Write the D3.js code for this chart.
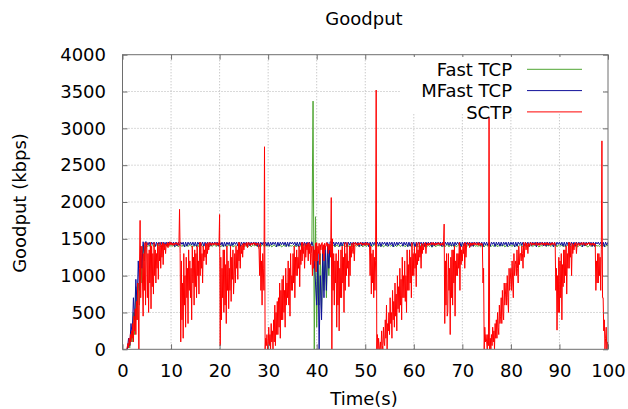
<!DOCTYPE html>
<html>
<head>
<meta charset="utf-8">
<script src="https://cdn.jsdelivr.net/npm/d3@7"></script>
<style>
  body { margin: 0; background: #fff; }
  svg text { font-family: "DejaVu Sans", sans-serif; font-size: 18px; fill: #000; }
</style>
</head>
<body>
<div id="chart"></div>
<script>
//sampling intervals of the traces, in seconds
var tcpStep = 0.25;
var sctpStep = 0.125;

//tick values
var xTicks = [0, 10, 20, 30, 40, 50, 60, 70, 80, 90, 100];
var yTicks = [0, 500, 1000, 1500, 2000, 2500, 3000, 3500, 4000];

var seriesNames = ["Fast TCP", "MFast TCP", "SCTP"];

//goodput (kbps), four samples per second
var fastTcp = [
  null,null,null,null,  0,80,20,200,  100,500,200,850,  400,900,600,1300,  900,1420,1200,1400,            // 0-4 s
  1410,1395,1415,1390,  1405,1420,1390,1410,  1415,1400,1420,1395,  1400,1415,1395,1420,  1420,1390,1410,1400, // 5-9
  1410,1400,1415,1390,  1405,1415,1390,1410,  1415,1395,1420,1400,  1400,1420,1395,1415,  1420,1390,1405,1400, // 10-14
  1410,1395,1420,1390,  1405,1420,1395,1410,  1415,1400,1415,1395,  1400,1410,1395,1420,  1420,1395,1410,1405, // 15-19
  1410,1390,1415,1400,  1405,1420,1390,1415,  1415,1400,1420,1390,  1400,1415,1400,1420,  1420,1390,1410,1395, // 20-24
  1410,1395,1415,1385,  1405,1420,1390,1410,  1415,1405,1420,1395,  1395,1415,1395,1420,  1420,1390,1415,1400, // 25-29
  1410,1400,1415,1390,  1405,1420,1395,1410,  1415,1400,1420,1390,  1400,1415,1395,1420,  1420,1395,1410,1400, // 30-34
  1410,1395,1415,1390,  1405,1420,1390,1415,  1415,1400,1420,1395,  1400,1415,1395,1420,                        // 35-38
  1420,3370,0,1800,  300,1200,600,1300,  500,1350,800,1300,  700,1400,1000,1420,                                // 39-42
  1410,1395,1415,1390,  1405,1420,1390,1410,  1415,1400,1420,1395,  1400,1415,1395,1420,  1420,1390,1410,1400, // 43-47
  1410,1400,1415,1390,  1405,1415,1390,1410,  1415,1395,1420,1400,  1400,1420,1395,1415,  1420,1390,1405,1400, // 48-52
  1410,1395,1420,1390,  1405,1420,1395,1410,  1415,1400,1415,1395,  1400,1410,1395,1420,  1420,1395,1410,1405, // 53-57
  1410,1390,1415,1400,  1405,1420,1390,1415,  1415,1400,1420,1390,  1400,1415,1400,1420,  1420,1390,1410,1395, // 58-62
  1410,1395,1415,1385,  1405,1420,1390,1410,  1415,1405,1420,1395,  1395,1415,1395,1420,  1420,1390,1415,1400, // 63-67
  1410,1400,1415,1390,  1405,1420,1395,1410,  1415,1400,1420,1390,  1400,1415,1395,1420,  1420,1395,1410,1400, // 68-72
  1410,1395,1415,1390,  1405,1420,1390,1415,  1415,1400,1420,1395,  1400,1415,1395,1420,  1420,1390,1410,1405, // 73-77
  1410,1400,1420,1390,  1405,1415,1395,1410,  1415,1395,1420,1400,  1400,1420,1390,1415,  1420,1395,1405,1400, // 78-82
  1410,1390,1415,1395,  1405,1420,1395,1410,  1415,1400,1415,1390,  1400,1410,1400,1420,  1420,1395,1410,1405, // 83-87
  1410,1395,1415,1400,  1405,1420,1390,1415,  1415,1400,1420,1395,  1400,1415,1400,1420,  1420,1390,1410,1395, // 88-92
  1410,1400,1415,1390,  1405,1420,1395,1410,  1415,1405,1420,1390,  1395,1415,1395,1420,  1420,1390,1415,1400, // 93-97
  1410,1395,1415,1390,  1405,1420,1395,1410,                                                                    // 98-99
  1410
];

var mfastTcp = [
  null,null,null,null,  0,150,50,350,  200,700,400,950,  600,1200,800,1400,  1100,1460,1300,1460,             // 0-4 s
  1455,1415,1455,1400,  1455,1425,1455,1395,  1455,1405,1455,1420,  1455,1390,1455,1415,  1455,1410,1455,1430, // 5-9
  1455,1420,1455,1395,  1455,1405,1455,1415,  1455,1425,1455,1390,  1455,1400,1455,1420,  1455,1415,1455,1405, // 10-14
  1455,1395,1455,1425,  1455,1410,1455,1400,  1455,1420,1455,1390,  1455,1405,1455,1415,  1455,1430,1455,1400, // 15-19
  1455,1415,1455,1395,  1455,1400,1455,1420,  1455,1390,1455,1410,  1455,1425,1455,1405,  1455,1400,1455,1415, // 20-24
  1455,1420,1455,1390,  1455,1405,1455,1425,  1455,1415,1455,1400,  1455,1395,1455,1420,  1455,1410,1455,1405, // 25-29
  1455,1400,1455,1415,  1455,1425,1455,1390,  1455,1405,1455,1420,  1455,1415,1455,1395,  1455,1400,1455,1430, // 30-34
  1455,1420,1455,1405,  1455,1390,1455,1415,  1455,1410,1455,1400,  1455,1425,1455,1395,                        // 35-38
  1460,1400,1200,900,  600,1300,0,1000,  400,1350,700,1400,  800,1450,1100,1460,                                // 39-42
  1455,1415,1455,1400,  1455,1425,1455,1395,  1455,1405,1455,1420,  1455,1390,1455,1415,  1455,1410,1455,1430, // 43-47
  1455,1420,1455,1395,  1455,1405,1455,1415,  1455,1425,1455,1390,  1455,1400,1455,1420,  1455,1415,1455,1405, // 48-52
  1455,1395,1455,1425,  1455,1410,1455,1400,  1455,1420,1455,1390,  1455,1405,1455,1415,  1455,1430,1455,1400, // 53-57
  1455,1415,1455,1395,  1455,1400,1455,1420,  1455,1390,1455,1410,  1455,1425,1455,1405,  1455,1400,1455,1415, // 58-62
  1455,1420,1455,1390,  1455,1405,1455,1425,  1455,1415,1455,1400,  1455,1395,1455,1420,  1455,1410,1455,1405, // 63-67
  1455,1400,1455,1415,  1455,1425,1455,1390,  1455,1405,1455,1420,  1455,1415,1455,1395,  1455,1400,1455,1430, // 68-72
  1455,1420,1455,1405,  1455,1390,1455,1415,  1455,1410,1455,1400,  1455,1425,1455,1395,  1455,1415,1455,1400, // 73-77
  1455,1405,1455,1420,  1455,1395,1455,1410,  1455,1420,1455,1390,  1455,1400,1455,1425,  1455,1410,1455,1405, // 78-82
  1455,1415,1455,1395,  1455,1400,1455,1420,  1455,1390,1455,1415,  1455,1425,1455,1405,  1455,1400,1455,1410, // 83-87
  1455,1420,1455,1390,  1455,1405,1455,1425,  1455,1415,1455,1400,  1455,1395,1455,1420,  1455,1410,1455,1405, // 88-92
  1455,1400,1455,1415,  1455,1425,1455,1390,  1455,1405,1455,1420,  1455,1415,1455,1395,  1455,1400,1455,1430, // 93-97
  1455,1420,1455,1405,  1455,1390,1455,1415,                                                                    // 98-99
  1455
];

//goodput (kbps), eight samples per second, one row per second
var sctp = [
  null,null,null,null,null,null,0,0,                   // 0
  40,80,20,150,60,200,100,250,
  150,350,100,450,250,550,200,650,
  400,900,600,0,1100,1750,700,1300,
  1400,900,450,1300,800,1450,600,1350,
  1450,700,1300,500,1350,900,1450,550,                 // 5
  1400,850,1300,750,1450,1000,1350,900,
  1300,1100,1440,950,1400,1200,1450,1100,
  1420,1250,1450,1150,1440,1350,1430,1300,
  1430,1400,1450,1380,1440,1410,1460,1420,
  1450,1420,1440,1410,1430,1445,1415,1440,             // 10
  1430,1450,1420,1440,1410,1435,1900,1300,
  100,1200,400,900,150,1300,600,1000,
  300,1250,700,1100,350,1350,800,1200,
  700,1100,400,1400,900,1250,600,1350,
  850,1300,700,1400,1000,1200,750,1450,                // 15
  1000,1450,1100,1300,900,1400,1200,1350,
  1250,1440,1150,1430,1300,1450,1350,1420,
  1450,1420,1440,1410,1430,1445,1415,1440,
  1440,1420,1450,1410,1435,1420,1445,1410,
  1830,50,1250,400,1100,700,1350,500,                  // 20
  1350,600,1150,350,1400,800,1200,550,
  1100,800,1400,650,1250,950,1350,750,
  1000,1300,900,1400,1100,1350,950,1450,
  1200,1450,1100,1400,1300,1420,1250,1440,
  1350,1430,1440,1420,1400,1450,1380,1440,             // 25
  1450,1420,1440,1410,1430,1445,1415,1440,
  1430,1450,1420,1440,1410,1435,1420,1445,
  1410,1350,1000,1440,800,1200,600,1300,
  1100,800,2750,0,150,50,200,0,
  0,300,50,200,0,350,100,250,                          // 30
  0,400,100,600,50,500,200,650,
  200,700,300,900,150,800,400,950,
  400,1000,500,800,300,1100,600,900,
  700,1200,600,1100,450,1300,800,1000,
  800,1300,900,1400,700,1250,1000,1350,                // 35
  1000,1250,1100,1400,850,1350,1150,1450,
  1200,1450,1300,1400,1100,1440,1250,1420,
  1350,1440,1200,1450,1300,1430,1150,1400,
  1300,1000,1400,1100,1350,1200,1440,1050,
  1450,1200,1400,1300,1440,1150,1420,1350,             // 40
  1440,1450,1300,1420,1200,1440,1350,1410,
  1450,1400,1440,1300,1430,1350,1420,1250,
  2060,0,1500,800,1300,600,1200,900,
  1300,300,1200,600,1350,250,1100,700,
  1350,700,1400,900,1250,500,1450,800,                 // 45
  1300,1000,1450,1100,1200,850,1400,1000,
  1400,1250,1440,1350,1300,1450,1200,1420,
  1450,1420,1440,1410,1430,1445,1415,1440,
  1430,1450,1420,1440,1410,1435,1420,1445,
  1440,1410,1450,1420,1435,1415,1440,1420,             // 50
  1000,1400,750,1300,900,1350,700,1250,
  800,1200,3520,0,200,0,150,0,
  0,100,0,250,50,0,300,100,
  50,400,150,600,0,350,250,500,
  200,700,350,500,150,800,400,650,                     // 55
  300,900,450,750,250,1000,550,850,
  500,1100,600,950,400,1250,700,1000,
  700,1200,650,1000,500,1350,800,1150,
  800,1350,900,1250,700,1450,1000,1300,
  1000,1400,1100,1300,850,1450,1150,1350,              // 60
  1200,1450,1250,1400,1100,1440,1300,1420,
  1350,1440,1420,1450,1300,1430,1410,1445,
  1430,1410,1440,1420,1435,1450,1415,1440,
  1450,1420,1440,1410,1430,1445,1415,1440,
  1430,1450,1420,1440,1410,1435,1420,1445,             // 65
  1410,1440,1700,350,1200,600,1300,450,
  500,1300,800,1100,200,1250,700,1350,
  600,1350,900,1400,450,1200,1000,1300,
  1000,1300,1100,1450,800,1400,1150,1350,
  1200,1400,1300,1440,1100,1450,1250,1420,             // 70
  1420,1450,1430,1440,1380,1445,1410,1440,
  1410,1440,1420,1450,1430,1415,1445,1420,
  1430,1420,1450,1410,1440,1425,1435,1410,
  1440,1420,900,1100,0,300,100,200,
  100,0,200,50,3150,0,150,0,                           // 75
  200,50,300,100,250,0,350,150,
  400,150,500,300,200,600,350,450,
  700,350,800,500,400,900,600,750,
  900,600,1000,700,500,1100,800,950,
  1100,800,1200,900,700,1300,1000,1150,                // 80
  1200,1000,1350,1100,900,1400,1150,1300,
  1300,1200,1400,1300,1100,1450,1250,1400,
  1450,1350,1440,1420,1300,1445,1400,1430,
  1430,1450,1410,1440,1420,1445,1415,1435,
  1420,1440,1450,1410,1435,1420,1445,1410,             // 85
  1440,1420,1430,1450,1415,1440,1425,1445,
  1410,1440,1420,1450,1430,1415,1445,1420,
  1430,1410,1440,1420,1450,1425,1435,1415,
  1450,1420,800,1100,260,1000,500,1250,
  500,1200,700,1300,400,1150,850,1350,                 // 90
  900,1350,1000,1400,750,1300,1100,1450,
  1100,1450,1250,1400,1000,1440,1300,1420,
  1350,1440,1420,1450,1300,1430,1410,1445,
  1430,1410,1440,1420,1435,1450,1415,1440,
  1450,1420,1440,1410,1430,1445,1415,1440,             // 95
  1430,1450,1420,1440,1410,1435,1420,1445,
  1410,1440,1420,1430,800,1200,900,1300,
  900,1300,1000,1250,800,1350,2830,700,
  700,250,400,0,150,300,0,100,
  0                                                    // 100
];

var width = 628;
var height = 409;

var svg = d3.select("#chart")
.append("svg")
.attr("width", width)
.attr("height", height);

//plot area scales
var x = d3.scaleLinear().domain([0, 100]).range([122.5, 608]);
var y = d3.scaleLinear().domain([0, 4000]).range([349.3, 54.7]);

//dotted grid
svg.append("g")
.selectAll("line")
.data(xTicks.slice(1, -1))
.enter()
.append("line")
.attr("x1", function(d) { return x(d); })
.attr("x2", function(d) { return x(d); })
.attr("y1", y(0))
.attr("y2", y(4000))
.attr("stroke", "#b4b4b4")
.attr("stroke-dasharray", "1,2");

svg.append("g")
.selectAll("line")
.data(yTicks.slice(1, -1))
.enter()
.append("line")
.attr("x1", x(0))
.attr("x2", x(100))
.attr("y1", function(d) { return y(d); })
.attr("y2", function(d) { return y(d); })
.attr("stroke", "#b4b4b4")
.attr("stroke-dasharray", "1,2");

//clip the traces to the plot area
svg.append("clipPath")
.attr("id", "plot-clip")
.append("rect")
.attr("x", x(0))
.attr("y", y(4000))
.attr("width", x(100) - x(0))
.attr("height", y(0) - y(4000));

var traces = [
  { data: fastTcp, step: tcpStep, color: "#4fa532" },
  { data: mfastTcp, step: tcpStep, color: "#10109a" },
  { data: sctp, step: sctpStep, color: "#ff0000" }
];

function tracePath(tr) {
  return d3.line()
  .defined(function(d) { return d != null; })
  .x(function(d, i) { return x(i * tr.step); })
  .y(function(d) { return y(d); })(tr.data);
}

svg.append("g")
.attr("clip-path", "url(#plot-clip)")
.selectAll("path")
.data(traces)
.enter()
.append("path")
.attr("d", tracePath)
.attr("fill", "none")
.attr("stroke", function(d) { return d.color; })
.attr("stroke-width", 1);

//axes with inward ticks on all four sides
function styleAxis(g) {
  g.select(".domain").remove();
  g.selectAll(".tick line").attr("stroke", "#6e6e6e");
  g.selectAll("text")
  .attr("font-family", "DejaVu Sans, sans-serif")
  .attr("font-size", 18)
  .attr("fill", "#000");
}

var fmt = d3.format("d");

svg.append("g")
.attr("transform", "translate(0," + y(0) + ")")
.call(d3.axisBottom(x).tickValues(xTicks).tickFormat(fmt).tickSizeInner(-5).tickSizeOuter(0).tickPadding(14.5))
.call(styleAxis);

svg.append("g")
.attr("transform", "translate(0," + y(4000) + ")")
.call(d3.axisTop(x).tickValues(xTicks).tickSizeInner(-5).tickSizeOuter(0).tickFormat(""))
.call(styleAxis);

svg.append("g")
.attr("transform", "translate(" + x(0) + ",0)")
.call(d3.axisLeft(y).tickValues(yTicks).tickFormat(fmt).tickSizeInner(-5).tickSizeOuter(0).tickPadding(16.5))
.call(styleAxis);

svg.append("g")
.attr("transform", "translate(" + x(100) + ",0)")
.call(d3.axisRight(y).tickValues(yTicks).tickSizeInner(-5).tickSizeOuter(0).tickFormat(""))
.call(styleAxis);

//border
svg.append("rect")
.attr("x", x(0))
.attr("y", y(4000))
.attr("width", x(100) - x(0))
.attr("height", y(0) - y(4000))
.attr("fill", "none")
.attr("stroke", "#6e6e6e");

//opaque key
var key = svg.append("g");
key.append("rect")
.attr("x", 400)
.attr("y", 57)
.attr("width", 203)
.attr("height", 57)
.attr("fill", "#fff");

var keyRows = key.selectAll("g.row")
.data(seriesNames)
.enter()
.append("g")
.attr("class", "row")
.attr("transform", function(d, i) { return "translate(0," + (69.3 + i * 21.3) + ")"; });

keyRows.append("text")
.attr("x", 512)
.attr("y", 6.6)
.attr("text-anchor", "end")
.text(function(d) { return d; });

keyRows.append("line")
.attr("x1", 527)
.attr("x2", 582)
.attr("stroke", function(d, i) { return traces[i].color; })
.attr("stroke-width", 1);

//titles
svg.append("text")
.attr("x", 364)
.attr("y", 25)
.attr("text-anchor", "middle")
.text("Goodput");

svg.append("text")
.attr("transform", "translate(26," + 203 + ") rotate(-90)")
.attr("text-anchor", "middle")
.text("Goodput (kbps)");

svg.append("text")
.attr("x", 364)
.attr("y", 405)
.attr("text-anchor", "middle")
.text("Time(s)");
</script>
</body>
</html>
